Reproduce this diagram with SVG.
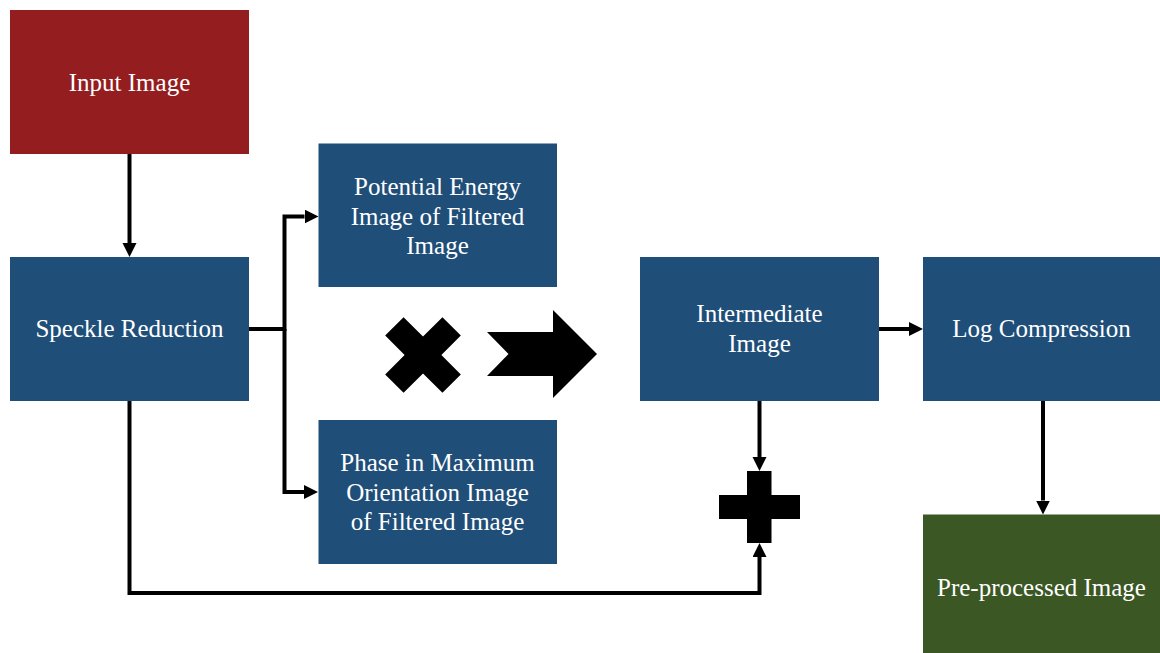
<svg xmlns="http://www.w3.org/2000/svg" width="1160" height="653" viewBox="0 0 1160 653">
<defs>
<style>
.box{stroke:none}
.blue{fill:#1F4E79}
.red{fill:#931D1F}
.green{fill:#3A5724}
.lbl{font-family:"Liberation Serif","Times New Roman",serif;font-size:25px;fill:#ffffff;text-anchor:middle}
.con{fill:none;stroke:#000;stroke-width:4;stroke-linejoin:miter}
.sym{fill:#000}
</style>
<marker id="ah" markerUnits="userSpaceOnUse" markerWidth="15" markerHeight="15" refX="0" refY="7" orient="auto">
<path d="M0,0 L14,7 L0,14 z" fill="#000"/>
</marker>
</defs>
<rect width="1160" height="653" fill="#ffffff"/>

<g id="connectors">
<path class="con" d="M129.5,154 V243" marker-end="url(#ah)"/>
<path class="con" d="M249,329 H284.5 V216.5 H304.5" marker-end="url(#ah)"/>
<path class="con" d="M284.5,329 V492 H304" marker-end="url(#ah)"/>
<path class="con" d="M879,329 H909" marker-end="url(#ah)"/>
<path class="con" d="M759.5,401 V457" marker-end="url(#ah)"/>
<path class="con" d="M1043,401 V500.5" marker-end="url(#ah)"/>
<path class="con" d="M129.5,401 V593 H759.5 V557" marker-end="url(#ah)"/>
</g>

<g id="input-image">
<rect class="box red" x="10" y="10" width="239" height="144"/>
<text class="lbl" x="129.5" y="91">Input Image</text>
</g>

<g id="speckle-reduction">
<rect class="box blue" x="10" y="257" width="239" height="144"/>
<text class="lbl" x="129.5" y="337">Speckle Reduction</text>
</g>

<g id="potential-energy">
<rect class="box blue" x="318.5" y="143.5" width="238.5" height="143.5"/>
<text class="lbl" x="437.5" y="195">Potential Energy</text>
<text class="lbl" x="437.5" y="224.5">Image of Filtered</text>
<text class="lbl" x="437.5" y="254">Image</text>
</g>

<g id="phase-max-orientation">
<rect class="box blue" x="318.5" y="420" width="238.5" height="144"/>
<text class="lbl" x="437.5" y="471">Phase in Maximum</text>
<text class="lbl" x="437.5" y="500.5">Orientation Image</text>
<text class="lbl" x="437.5" y="530">of Filtered Image</text>
</g>

<g id="multiply-symbol">
<path class="sym" transform="translate(423,355) rotate(45)" d="M-13,-40.5 H13 V-13 H40.5 V13 H13 V40.5 H-13 V13 H-40.5 V-13 H-13 Z"/>
</g>

<g id="result-arrow">
<polygon class="sym" points="487,332 553,332 553,310 597,354 553,398 553,376 487,376 508.5,354"/>
</g>

<g id="intermediate-image">
<rect class="box blue" x="640" y="257" width="239" height="144"/>
<text class="lbl" x="759.5" y="322">Intermediate</text>
<text class="lbl" x="759.5" y="352">Image</text>
</g>

<g id="log-compression">
<rect class="box blue" x="923" y="257" width="237" height="144"/>
<text class="lbl" x="1041.5" y="337">Log Compression</text>
</g>

<g id="plus-symbol">
<path class="sym" d="M747,471 H771.5 V495 H800 V519 H771.5 V543 H747 V519 H719 V495 H747 Z"/>
</g>

<g id="preprocessed-image">
<rect class="box green" x="923" y="514.5" width="237" height="138.5"/>
<text class="lbl" x="1041.5" y="596">Pre-processed Image</text>
</g>
</svg>
